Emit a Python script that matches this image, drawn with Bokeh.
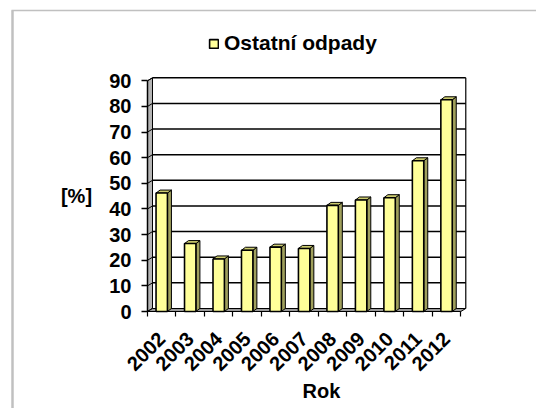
import math
from bokeh.plotting import figure
from bokeh.models import Range1d, FixedTicker, Legend, LegendItem
from bokeh.core.properties import value
from bokeh.embed import file_html
from bokeh.resources import INLINE

# ---- data ----
years = ["2002", "2003", "2004", "2005", "2006", "2007", "2008", "2009", "2010", "2011", "2012"]
values = [46.2, 26.5, 20.5, 23.9, 25.1, 24.6, 41.4, 43.5, 44.4, 58.8, 82.6]
y_ticks = [0, 10, 20, 30, 40, 50, 60, 70, 80, 90]
series_name = "Ostatní odpady"
x_title = "Rok"
y_title = "[%]"

FONT = "Liberation Sans"
W, H = 536, 408
# pixel geometry of the chart (canvas pixels)
X0, Y0 = 147.0, 311.0          # where (0, 0) of the data lies
SX = 28.48                     # pixels per category
SY = 230.7 / 90.0              # pixels per percent


def to_x(px):
    return (px - X0) / SX


def to_y(py):
    return (Y0 - py) / SY


wall_dx = 5 / SX
wall_dy = 3 / SY
bar_dx = 4 / SX
bar_dy = 3 / SY
bw = 0.4
n = len(years)
centers = [i + 0.5 for i in range(n)]
top = y_ticks[-1]

p = figure(width=W, height=H, x_range=Range1d(to_x(0), to_x(W)), y_range=Range1d(to_y(H), to_y(0)),
           output_backend="svg", toolbar_location=None,
           min_border_left=0, min_border_right=0, min_border_top=0, min_border_bottom=0)
p.outline_line_color = None
p.xgrid.visible = False
p.ygrid.visible = False
p.background_fill_color = "white"
p.border_fill_color = "white"

# chart-area border (top and left, light grey)
p.segment(x0=[to_x(11)], y0=[to_y(10)], x1=[to_x(W)], y1=[to_y(10)],
          line_color="#c0c0c0", line_width=1.5)
p.segment(x0=[to_x(12)], y0=[to_y(10)], x1=[to_x(12)], y1=[to_y(H)],
          line_color="#c0c0c0", line_width=2.5)

# back wall gridlines
k = len(y_ticks) - 1
p.segment(x0=[wall_dx] * k, y0=[t + wall_dy for t in y_ticks[1:]],
          x1=[n + wall_dx] * k, y1=[t + wall_dy for t in y_ticks[1:]],
          line_color="black", line_width=1.5)
# back wall right edge
p.segment(x0=[n + wall_dx], y0=[wall_dy], x1=[n + wall_dx], y1=[top + wall_dy],
          line_color="black", line_width=1.2)
# left wall
p.patch(x=[0, wall_dx, wall_dx, 0], y=[0, wall_dy, top + wall_dy, top],
        fill_color="#b4b4b4", line_color="black", line_width=1)
p.segment(x0=[0] * len(y_ticks), y0=y_ticks, x1=[wall_dx] * len(y_ticks),
          y1=[t + wall_dy for t in y_ticks], line_color="black", line_width=1)
# floor
p.patch(x=[0, n, n + wall_dx, wall_dx], y=[0, 0, wall_dy, wall_dy],
        fill_color="#999999", line_color="black", line_width=1)
# front axis line
p.segment(x0=[0], y0=[0], x1=[0], y1=[top], line_color="black", line_width=1.5)

# bars: side faces, top faces, front faces
side_xs = [[c + bw / 2, c + bw / 2 + bar_dx, c + bw / 2 + bar_dx, c + bw / 2] for c in centers]
side_ys = [[0, bar_dy, v + bar_dy, v] for v in values]
p.patches(xs=side_xs, ys=side_ys, fill_color="#a0a05c", line_color="black", line_width=1)
top_xs = [[c - bw / 2, c - bw / 2 + bar_dx, c + bw / 2 + bar_dx, c + bw / 2] for c in centers]
top_ys = [[v, v + bar_dy, v + bar_dy, v] for v in values]
p.patches(xs=top_xs, ys=top_ys, fill_color="#cccc6e", line_color="black", line_width=1)
r = p.vbar(x=centers, top=values, bottom=0, width=bw, fill_color="#FFFF99",
           line_color="black", line_width=1.6)

# axes, pinned at the data origin
p.xaxis.fixed_location = 0
p.yaxis.fixed_location = 0
p.xaxis.ticker = FixedTicker(ticks=centers, minor_ticks=list(range(n + 1)))
p.xaxis.major_label_overrides = {c: y for c, y in zip(centers, years)}
p.xaxis.major_label_orientation = math.pi / 4
p.xaxis.major_tick_line_color = None
p.xaxis.major_tick_out = 0
p.xaxis.major_tick_in = 0
p.xaxis.minor_tick_out = 5
p.xaxis.minor_tick_in = 0
p.xaxis.minor_tick_line_color = "black"
p.xaxis.minor_tick_line_width = 1.2
p.xaxis.axis_line_color = None
p.xaxis.major_label_standoff = 19

p.yaxis.ticker = FixedTicker(ticks=y_ticks, minor_ticks=[])
p.yaxis.major_tick_out = 6
p.yaxis.major_tick_in = 0
p.yaxis.major_tick_line_color = "black"
p.yaxis.major_tick_line_width = 1.5
p.yaxis.minor_tick_line_color = None
p.yaxis.axis_line_color = None
p.yaxis.major_label_standoff = 10

for ax in (p.xaxis[0], p.yaxis[0]):
    ax.major_label_text_font = FONT
    ax.major_label_text_font_size = "20px"
    ax.major_label_text_font_style = "bold"
    ax.major_label_text_color = "black"

# axis titles
p.text(x=[to_x(321)], y=[to_y(390)], text=[x_title], text_font=value(FONT),
       text_font_size="20px", text_font_style="bold", text_align="center",
       text_baseline="middle", text_color="black")
p.text(x=[to_x(76)], y=[to_y(195)], text=[y_title], text_font=value(FONT),
       text_font_size="20px", text_font_style="bold", text_align="center",
       text_baseline="middle", text_color="black")

# legend at the top
legend = Legend(items=[LegendItem(label=series_name, renderers=[r])],
                location=(208, H - 55), padding=0, margin=0, glyph_width=11, glyph_height=11,
                label_standoff=5, border_line_color=None, background_fill_alpha=0,
                label_text_font=FONT, label_text_font_size="21px",
                label_text_font_style="bold", label_text_color="black")
p.add_layout(legend)

open("out.html", "w").write(file_html(p, INLINE))
